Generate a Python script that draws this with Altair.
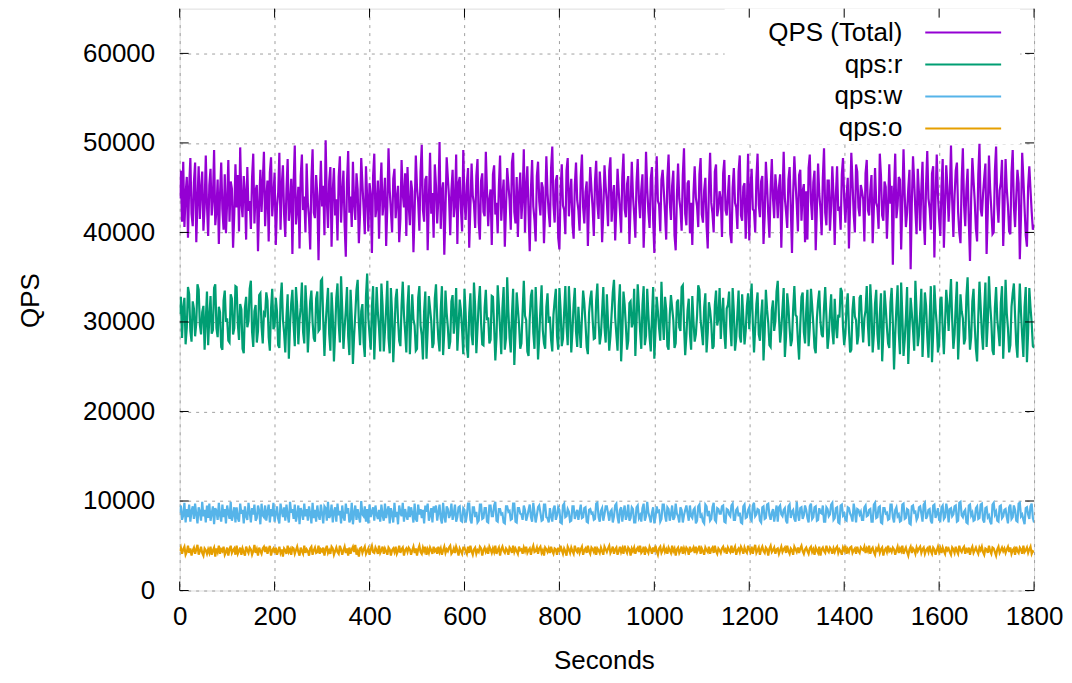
import altair as alt
import pandas as pd

qps_total = [
    43800, 46900, 41200, 47900, 40600, 44300, 46200, 39400, 45100, 48300, 42100, 40700, 45600, 47800, 38900, 43600, 47400, 41500, 44900, 46800, 40200, 42800, 48600, 43100,
    39600, 45300, 47100, 41900, 43700, 49200, 40800, 42500, 45900, 38700, 44200, 47800, 42600, 40300, 46500, 39900, 43400, 48100, 41200, 45700, 44900, 38300, 42000, 47600,
    42800, 46400, 40100, 49500, 43300, 41700, 46300, 44500, 39200, 47300, 42400, 43500, 40400, 46100, 48800, 41000, 44700, 45300, 37900, 43100, 47000, 42300, 45600, 49000,
    40700, 43900, 45800, 39000, 46700, 48400, 41800, 44100, 46700, 38600, 42900, 44400, 48900, 40300, 45200, 47500, 42000, 39500, 44800, 48200, 41300, 43000, 46000, 37600,
    45400, 49700, 40900, 42700, 45100, 38200, 46300, 48700, 42500, 44000, 40000, 47700, 43300, 41600, 38100, 45900, 49300, 42200, 41600, 46400, 44100, 36900, 43800, 48000,
    42900, 45200, 39700, 50300, 43600, 40500, 45700, 47300, 38400, 44600, 47200, 41900, 43700, 39100, 46200, 48500, 41100, 44300, 46900, 40800, 37300, 45600, 49100, 42200,
    44000, 40600, 47900, 43200, 41400, 46600, 44800, 38800, 42100, 48300, 45400, 42700, 39800, 47400, 43900, 40100, 45500, 44200, 37700, 46300, 48800, 41700, 43000, 45800,
    39300, 44500, 47800, 41900, 43600, 46100, 38500, 42900, 49400, 44700, 42400, 40000, 46000, 47100, 41600, 43800, 45200, 38900, 41500, 48100, 44300, 42800, 46600, 39600,
    47300, 43100, 40800, 45800, 44600, 37800, 42300, 48600, 45000, 43400, 40200, 46800, 49800, 42500, 41200, 45900, 46300, 38000, 43700, 48900, 42100, 44400, 39400, 47600,
    45200, 41000, 43800, 50100, 40400, 44500, 45600, 37500, 42600, 48400, 46100, 43900, 39700, 44700, 47000, 41700, 43200, 48700, 38700, 45500, 46200, 42600, 40100, 49200,
    43500, 41400, 45400, 47200, 38300, 42900, 47700, 44100, 43200, 40500, 46300, 48200, 41100, 39200, 45800, 46600, 42300, 41800, 49000, 44600, 40700, 43700, 44800, 38600,
    46500, 47500, 42000, 43300, 39900, 45200, 48600, 41300, 44000, 45900, 38400, 42700, 47200, 45400, 43600, 40300, 47800, 48900, 42300, 41000, 46200, 39500, 44300, 46700,
    41500, 43900, 49300, 40000, 45100, 47400, 42200, 37900, 44800, 48100, 42900, 41400, 39000, 46300, 47900, 43500, 41900, 45600, 45000, 38800, 42700, 48500, 44400, 42200,
    40600, 47200, 49600, 43100, 41100, 45800, 46400, 39400, 38100, 44700, 47600, 43000, 42500, 39800, 46900, 48300, 41800, 44200, 46000, 40900, 39300, 45300, 47800, 43600,
    42500, 40200, 46200, 48700, 42800, 41000, 44500, 45700, 38500, 43800, 47300, 44900, 42700, 39600, 45700, 48000, 43200, 41500, 46800, 44700, 38900, 42300, 47500, 45100,
    43400, 40700, 46900, 48400, 41200, 43900, 45300, 39100, 42800, 47100, 44600, 42400, 40000, 46200, 48800, 42600, 41700, 45400, 46300, 38700, 43000, 47900, 44100, 42000,
    39400, 45600, 48200, 43700, 41600, 44800, 46500, 38300, 42400, 49000, 44900, 42300, 40500, 46000, 47300, 41400, 37700, 44600, 48500, 43500, 43100, 40100, 45900, 47000,
    44600, 42200, 39200, 46100, 48700, 43400, 41400, 45200, 46900, 39700, 38000, 44000, 47700, 43800, 42600, 40200, 46400, 49400, 42100, 40800, 45500, 45800, 39900, 43300,
    38600, 44400, 47400, 43900, 42900, 40600, 46500, 48300, 42000, 41100, 44700, 46100, 40800, 38200, 45000, 48900, 43300, 42100, 40000, 46800, 47600, 41800, 42700, 44600,
    43700, 39500, 46600, 48100, 42500, 41900, 44200, 46400, 39800, 38800, 45000, 47200, 43300, 42800, 40400, 46800, 48600, 41900, 41300, 45100, 45500, 39300, 43000, 48800,
    39100, 44900, 47100, 42600, 42400, 40000, 46000, 48800, 43100, 41700, 45700, 46300, 38700, 41800, 47900, 45300, 42000, 39400, 44900, 48200, 43800, 41600, 46500, 44700,
    41600, 45000, 46500, 38300, 43900, 49000, 43800, 42300, 40500, 45900, 47300, 42700, 37700, 44400, 48500, 45600, 43100, 40100, 46400, 47000, 41300, 44600, 45400, 38900,
    44600, 39200, 47200, 48700, 43400, 41400, 45600, 46900, 38000, 42700, 47700, 44300, 42600, 39700, 46100, 49400, 42200, 40800, 45800, 45800, 40200, 43000, 47400, 44100,
    38600, 44200, 47400, 42400, 42900, 40300, 46500, 48300, 43700, 41100, 44100, 46100, 38200, 43200, 48900, 45700, 42000, 40000, 47600, 46800, 42800, 41800, 45300, 44600,
    43700, 39000, 46600, 48100, 42500, 41900, 44700, 46400, 38800, 42700, 47200, 43300, 42800, 40400, 48800, 46300, 41900, 41300, 45700, 45100, 39300, 43000, 47600, 43200,
    45200, 36400, 44600, 48800, 41600, 43000, 46200, 45900, 38100, 43500, 49300, 44100, 40600, 42200, 44900, 47000, 35900, 43400, 48500, 45600, 42400, 39800, 47100, 44400,
    40200, 44800, 47900, 41600, 38600, 45300, 49100, 43800, 42700, 40300, 46600, 47400, 37200, 43900, 48700, 44200, 41500, 39600, 45100, 48200, 38300, 42900, 47500, 45000,
    41200, 44300, 49700, 43600, 39500, 44100, 46900, 47800, 42300, 40000, 38800, 45800, 49400, 43100, 40700, 44900, 47100, 41300, 36800, 43800, 48300, 45800, 43500, 40400,
    39000, 46500, 49900, 42600, 41800, 44300, 46100, 47700, 37600, 42200, 48600, 44900, 42500, 39800, 40000, 46900, 49600, 43200, 41100, 44700, 45600, 48100, 38500, 42600,
    48200, 44900, 43000, 40100, 39800, 46700, 49200, 42900, 40600, 44000, 47000, 45500, 37000, 41900, 48900, 46000, 42700, 39700, 38400, 45100, 47400, 44800, 42300, 40300,
    40900,
]

qps_r = [
    30900, 32800, 28200, 31600, 32700, 27500, 29400, 33900, 33100, 29000, 27800, 32300, 31500, 28400, 29900, 34200, 33600, 29700, 28600, 31100, 31800, 26900, 30200, 33400,
    27400, 30600, 32900, 28700, 29100, 33800, 34200, 29300, 28300, 31700, 31100, 27200, 26900, 32400, 33500, 30000, 30400, 27900, 27700, 33100, 32600, 28600, 29300, 34000,
    33900, 29800, 28000, 32000, 31400, 27000, 26500, 31600, 32800, 29400, 30100, 33700, 34600, 28900, 27200, 31200, 31900, 27700, 29000, 33000, 33200, 29500, 27600, 31000,
    30800, 33300, 32400, 28300, 26800, 31500, 33700, 29200, 29500, 32700, 31200, 27400, 27100, 32500, 34400, 30300, 28800, 26600, 30600, 33100, 25900, 29700, 32100, 33600,
    29700, 27300, 33900, 31800, 27500, 30200, 31600, 34400, 28900, 27600, 34100, 31500, 26600, 29300, 32300, 33500, 30000, 28200, 27800, 32600, 33400, 29000, 29200, 34600,
    34800, 30100, 26200, 29700, 31900, 33800, 28700, 26800, 33300, 30700, 25600, 28900, 32700, 34300, 29800, 27700, 35100, 31400, 27000, 29300, 31300, 33900, 28400, 26300,
    33600, 30600, 25300, 28500, 30900, 33600, 34700, 29900, 27400, 31200, 32000, 27700, 26100, 32900, 35400, 30400, 28600, 26900, 31700, 34000, 25800, 29600, 33900, 31100,
    29300, 26700, 34300, 31800, 26700, 29000, 31500, 34600, 28200, 26500, 33800, 30900, 25500, 28800, 32600, 33700, 30300, 27900, 27300, 31900, 34500, 30800, 28900, 26600,
    31800, 34100, 26400, 29800, 33100, 30300, 29600, 26800, 27000, 32700, 34000, 29600, 28500, 25800, 31200, 33400, 25900, 29100, 32900, 31500, 30100, 27100, 27600, 32600,
    34200, 30500, 28100, 26700, 31400, 34000, 26300, 28900, 33500, 31000, 29400, 27000, 27800, 32300, 33000, 28700, 30700, 33800, 26800, 29500, 32500, 31300, 29100, 26400,
    33700, 30900, 27200, 26000, 31000, 33200, 28600, 27400, 34400, 31700, 26500, 29300, 32200, 34000, 29900, 27500, 27400, 31600, 33600, 30200, 30500, 27600, 28000, 32900,
    32800, 29500, 25700, 28300, 34100, 31800, 29200, 26400, 31600, 33900, 26900, 28200, 35000, 31200, 28300, 26600, 30800, 33700, 25200, 28800, 33300, 31500, 29700, 27000,
    27600, 31100, 34600, 30700, 30200, 26700, 26200, 30400, 32900, 33600, 28800, 27000, 33900, 30500, 25800, 28300, 31500, 34100, 29100, 27600, 27000, 31700, 33200, 29900,
    30600, 28000, 26700, 30800, 32400, 33700, 28400, 26900, 33800, 31400, 27300, 28100, 31100, 34000, 29500, 27400, 34000, 31200, 26600, 29000, 32000, 33800, 28900, 27200,
    31700, 29300, 27100, 30500, 33500, 32100, 29800, 27200, 26400, 31000, 32600, 33500, 30300, 28100, 28200, 32400, 34300, 30100, 27500, 28600, 31200, 33900, 29400, 27700,
    33100, 29900, 26800, 28400, 30900, 33300, 34700, 30500, 28600, 26800, 31800, 34200, 25600, 28700, 33400, 31900, 29600, 26900, 27900, 32100, 32300, 29400, 30000, 33700,
    26200, 30000, 34200, 31700, 29000, 27000, 31900, 34000, 27400, 28500, 33700, 30800, 28300, 26700, 30600, 33900, 25900, 29100, 32800, 31200, 29300, 27900, 34500, 30600,
    28000, 32800, 31400, 27300, 26900, 30800, 33000, 31600, 30200, 27100, 27600, 32200, 32500, 29400, 29000, 33900, 34100, 29700, 26300, 28400, 31300, 32600, 28700, 26900,
    32900, 30100, 27800, 28600, 30700, 34100, 33600, 30200, 28900, 27400, 31600, 33200, 26600, 28800, 32200, 31300, 29800, 27000, 27300, 31900, 33500, 29600, 30400, 33800,
    28100, 30900, 32700, 28700, 27000, 31500, 31900, 33400, 29500, 27300, 33800, 31200, 26800, 28200, 30900, 33500, 28400, 27700, 33100, 30400, 27500, 29000, 31800, 33200,
    29200, 32100, 34300, 29900, 26600, 29300, 32000, 33300, 28600, 27900, 30700, 32500, 25700, 28800, 33600, 31400, 29900, 27400, 27200, 31300, 32400, 29000, 30100, 33400,
    34600, 30700, 27700, 29200, 31500, 33800, 26100, 28300, 33200, 31700, 29300, 27300, 28000, 31500, 34000, 30800, 30600, 27900, 25800, 29700, 32800, 33300, 28900, 27600,
    31200, 33600, 27300, 29400, 33700, 31800, 29700, 27100, 26500, 30400, 32300, 33500, 30000, 28600, 28300, 31600, 33900, 30700, 27000, 28400, 31000, 33100, 29000, 27500,
    32600, 29600, 28200, 30800, 30500, 33800, 33400, 29400, 27400, 28700, 31800, 33200, 29200, 26600, 26900, 31300, 32900, 30600, 30200, 27500, 28500, 32700, 33000, 29800,
    27700, 30400, 31300, 34000, 29600, 27300, 34200, 31400, 26600, 28600, 32100, 33600, 28700, 26900, 30800, 33200, 25600, 28700, 33500, 31600, 29400, 27600, 27100, 32200,
    33800, 29900, 24700, 28600, 31600, 34100, 28800, 26400, 34400, 30700, 26200, 28000, 30500, 33900, 25300, 28900, 32700, 31000, 29100, 26800, 34600, 31200, 27300, 28500,
    31000, 33700, 26100, 29300, 33300, 31800, 28400, 26000, 30200, 34000, 25500, 28700, 34100, 31500, 29700, 26600, 27500, 32500, 32800, 29200, 26400, 29900, 33600, 31800,
    29000, 32300, 34800, 30300, 27000, 28600, 31900, 34500, 25800, 29000, 33100, 31200, 30400, 27500, 28100, 32900, 35000, 30300, 26900, 28300, 32300, 33700, 29600, 27000,
    25600, 30600, 34500, 31700, 28700, 26900, 31400, 34400, 27200, 29900, 35100, 32000, 30000, 26800, 26300, 31600, 33900, 30300, 28900, 27300, 32100, 34000, 25900, 29500,
    34700, 31000, 29300, 26600, 27400, 31700, 33200, 34300, 30700, 27500, 26000, 30800, 34300, 31000, 28400, 26100, 31700, 33900, 25500, 28800, 33800, 31600, 29900, 27300,
    27100,
]

qps_w = [
    8700, 9500, 7900, 8400, 9800, 7600, 9100, 8200, 9600, 7700, 8900, 9400, 8000, 9700, 8500, 7500, 9300, 8800, 7800, 9900, 8300, 9000, 7600, 9500,
    8100, 9700, 7800, 8600, 9400, 7400, 9200, 8900, 7900, 9800, 8400, 7700, 9600, 8200, 9100, 7500, 9500, 8700, 8000, 9900, 7800, 8500, 9300, 7600,
    9300, 8100, 7700, 9700, 8600, 9000, 7500, 9400, 8300, 7900, 9800, 8800, 7600, 9200, 8500, 9600, 7800, 8100, 9500, 8900, 7400, 9700, 8400, 8200,
    9500, 7800, 8800, 9600, 7600, 9100, 8300, 9800, 7700, 8600, 9400, 8000, 7500, 9700, 8900, 8200, 9300, 7800, 9600, 8400, 7600, 9900, 8700, 9100,
    8000, 9600, 7700, 8500, 9500, 7400, 9200, 8800, 7900, 9700, 8300, 9100, 7800, 9400, 8600, 7500, 9800, 8100, 9000, 7700, 9500, 8400, 7900, 9600,
    8600, 7500, 9400, 9200, 7800, 9900, 8100, 8400, 9600, 7600, 8800, 9300, 7700, 9700, 8400, 8900, 7500, 9500, 8200, 7800, 9700, 8600, 9200, 7600,
    8000, 9800, 7400, 8700, 9500, 7900, 9100, 8300, 7600, 10000, 8500, 8300, 9400, 7700, 9100, 7500, 9600, 8200, 8800, 9300, 7800, 9500, 8500, 8000,
    9000, 7700, 9600, 8400, 7800, 9700, 8100, 8900, 9400, 7500, 9200, 8600, 7600, 9800, 8200, 8800, 7400, 9500, 8700, 8300, 9800, 7700, 9100, 8400,
    7900, 9400, 8200, 9300, 8600, 7600, 9700, 8000, 7700, 9600, 8500, 9100, 8100, 9000, 7500, 9500, 8800, 9700, 7800, 8400, 9200, 7600, 9400, 8700,
    9500, 7800, 8700, 9600, 8000, 7500, 9800, 8300, 7600, 9400, 9100, 8100, 8500, 9700, 7900, 8600, 9600, 7700, 8200, 9300, 9400, 7800, 7700, 9200,
    9000, 7600, 8400, 9700, 9700, 7900, 7500, 9300, 9300, 8200, 8800, 7600, 7800, 9600, 9600, 8000, 8100, 9200, 9200, 7700, 7600, 9500, 9500, 8300,
    8300, 9500, 9900, 7800, 7700, 9100, 9100, 8500, 8600, 7600, 7500, 9400, 9400, 8800, 8900, 7900, 8000, 9700, 9700, 7700, 7600, 9200, 9200, 8600,
    8500, 7900, 9500, 9000, 7800, 8300, 9000, 9600, 8200, 7700, 9800, 8700, 7600, 8400, 9300, 9500, 8700, 7800, 7900, 9600, 9600, 8200, 8100, 7600,
    9200, 8300, 7700, 9100, 9500, 7900, 8400, 9300, 9000, 7600, 7500, 9500, 9700, 8200, 8300, 9100, 8800, 7700, 7800, 9400, 9400, 8000, 8600, 9000,
    7900, 8800, 9600, 8100, 8200, 9200, 9300, 7700, 7600, 9000, 9100, 8600, 8700, 7900, 8000, 9700, 9800, 8200, 7700, 8900, 9200, 7800, 8500, 9400,
    9400, 8600, 7800, 8800, 9000, 7600, 8300, 9500, 9700, 8200, 7500, 9000, 9300, 7700, 8800, 9500, 7900, 8400, 9600, 7800, 8100, 9300, 9100, 7600,
    7600, 9300, 9500, 8100, 8400, 7700, 9200, 9700, 7800, 8300, 9900, 8700, 8200, 7600, 8700, 9300, 7500, 8200, 9400, 8800, 8900, 7700, 8000, 9600,
    9600, 8400, 7700, 9300, 9100, 7800, 8500, 9500, 7900, 8200, 9700, 8600, 8300, 7600, 9300, 9000, 7600, 8400, 9000, 9500, 8600, 7800, 9500, 8300,
    8100, 9000, 9200, 7500, 7800, 9400, 9600, 8100, 8400, 7700, 7500, 9600, 9400, 8300, 8900, 7800, 8000, 9300, 9800, 7900, 7700, 9200, 9100, 8600,
    8600, 9400, 9500, 7700, 7600, 9100, 9000, 8500, 8300, 9500, 9700, 7900, 7900, 9000, 9200, 8300, 8700, 7600, 7500, 9400, 9600, 8100, 8200, 9000,
    9300, 8000, 7800, 9500, 9800, 8300, 8500, 9100, 9000, 7800, 7600, 9300, 9400, 8000, 8100, 9600, 9700, 8400, 7900, 8700, 9100, 7700, 8600, 9500,
    7700, 9300, 9500, 8500, 8300, 9000, 9200, 7800, 7500, 9400, 9600, 8100, 8800, 9000, 8000, 7700, 9900, 8600, 7800, 9200, 9300, 8000, 8400, 9500,
    9000, 8100, 7600, 9400, 9700, 8000, 8200, 9300, 9400, 7800, 7900, 9200, 8700, 8600, 9500, 7700, 7700, 9300, 9100, 8300, 8500, 9600, 9800, 7900,
    8100, 9200, 9300, 7600, 7500, 9500, 9600, 8400, 8600, 7900, 7800, 9300, 9200, 8600, 8300, 7700, 9700, 8900, 7600, 9100, 9000, 8500, 8800, 7900,
    7900, 9300, 9500, 8300, 8400, 9000, 9100, 7700, 7700, 9600, 9800, 8100, 8200, 9300, 9400, 7600, 7500, 9200, 9200, 8600, 8700, 7900, 8000, 9600,
    9600, 8200, 7600, 9000, 9300, 8300, 8500, 7700, 7800, 9600, 9700, 8000, 8100, 9100, 9000, 7500, 7400, 9400, 9500, 8700, 8800, 7900, 8200, 9300,
    9400, 8600, 7700, 9600, 9800, 8000, 8300, 9000, 9100, 7800, 7500, 9500, 9600, 8100, 8600, 9200, 7900, 7800, 9300, 9500, 8000, 8200, 9700, 9000,
    7600, 9100, 9200, 8300, 8500, 9400, 9500, 7700, 7800, 9800, 9900, 8400, 8200, 8800, 9000, 7600, 7500, 9500, 9600, 8400, 8700, 7800, 7900, 9200,
    9400, 8000, 8100, 9600, 9700, 7900, 7600, 9200, 9300, 8200, 8400, 7700, 7400, 9600, 9800, 8500, 8800, 7800, 7700, 9400, 9500, 8100, 8300, 9000,
    9100, 8200, 7500, 9300, 9600, 8000, 8200, 9500, 9000, 7800, 7700, 9700, 9800, 8300, 8500, 7900, 7400, 9200, 9300, 8500, 8000, 9400, 9700, 8100,
    7600,
]

qps_o = [
    4400, 4800, 4100, 4600, 4900, 4000, 4300, 5000, 4200, 4700, 3900, 4500, 4800, 4100, 4600, 5100, 4000, 4400, 4900, 4200, 3900, 4700, 4500, 4100,
    4600, 4200, 4900, 4000, 4500, 4800, 3800, 4700, 4300, 5000, 4100, 4600, 4400, 4900, 4000, 4300, 4800, 3900, 4600, 5000, 4200, 4500, 4700, 4000,
    5000, 4100, 4400, 4800, 4000, 4700, 4300, 3900, 4900, 4500, 4200, 4800, 4600, 4000, 4400, 5100, 4200, 4600, 3900, 4800, 4400, 4100, 4700, 4900,
    4300, 4900, 4100, 4600, 5000, 3900, 4500, 4700, 4200, 4800, 4000, 4400, 4900, 4200, 4600, 3800, 4700, 4500, 4100, 5000, 4300, 4600, 4000, 4800,
    4700, 4100, 4500, 4900, 4300, 3900, 4800, 4400, 4100, 5000, 4200, 4600, 4400, 3900, 4700, 4900, 4000, 4500, 4800, 4200, 4300, 5000, 4100, 4600,
    4400, 4800, 3900, 4600, 5000, 4200, 4500, 4100, 4900, 4700, 4000, 4400, 4800, 4300, 4100, 5000, 4600, 4000, 4500, 4900, 4200, 4700, 3900, 4800,
    4100, 4600, 4900, 4300, 5100, 4000, 4400, 3800, 4700, 4800, 4200, 4600, 4900, 4100, 4400, 4700, 4000, 4600, 5000, 4300, 4200, 4800, 4500, 4100,
    5000, 4200, 4500, 4900, 4100, 4700, 4400, 4000, 4800, 4600, 3900, 4500, 4700, 4300, 4900, 4100, 4400, 5000, 4200, 4600, 4800, 3900, 4500, 4700,
    4300, 4800, 4600, 4000, 4500, 4900, 4200, 4700, 3900, 4600, 5000, 4300, 4100, 4800, 4400, 4900, 4000, 4600, 4200, 4800, 4500, 4100, 4900, 4400,
    4600, 4100, 4900, 4300, 4700, 4000, 4500, 4900, 4200, 4600, 4400, 4800, 5000, 4100, 4300, 4700, 4200, 4900, 4500, 3900, 4700, 4400, 4100, 4800,
    4800, 4400, 4100, 4900, 4200, 5000, 4400, 4000, 4600, 4800, 4100, 4500, 4300, 4900, 4700, 3900, 4500, 4800, 4300, 4600, 4100, 4900, 4600, 4200,
    4700, 4300, 5000, 4100, 4500, 4800, 3900, 4600, 4900, 4400, 4200, 4700, 4500, 4000, 4800, 4600, 4200, 5000, 4300, 4700, 4400, 4100, 4900, 4500,
    4600, 4100, 4800, 4400, 4900, 4200, 4500, 4700, 4000, 4600, 5000, 4300, 4400, 4800, 4100, 4700, 4900, 4200, 4500, 3900, 4800, 4600, 4300, 4700,
    4200, 4900, 4400, 4100, 4700, 4600, 4000, 4800, 4300, 5000, 4500, 4100, 4700, 4400, 3900, 4900, 4600, 4200, 4800, 4400, 4100, 5000, 4500, 4300,
    4800, 4200, 4600, 4900, 4000, 4500, 4700, 4200, 5000, 4400, 4100, 4800, 4600, 4300, 4900, 4000, 4700, 4500, 4200, 4800, 4400, 4000, 4900, 4600,
    4300, 4700, 5000, 4200, 4500, 4900, 4100, 4600, 4800, 4000, 4400, 4900, 4300, 4700, 4100, 5000, 4500, 4200, 4800, 4600, 3900, 4700, 4400, 4800,
    4100, 4600, 4800, 4300, 5000, 4200, 4400, 4900, 4000, 4700, 4500, 4200, 4900, 4600, 4100, 4800, 4300, 5000, 4400, 4000, 4700, 4900, 4200, 4500,
    4900, 4300, 4600, 4100, 4800, 4500, 4200, 5000, 4400, 4700, 3900, 4600, 4800, 4200, 4500, 4900, 4100, 4700, 4300, 4800, 4600, 4000, 4900, 4400,
    4500, 4800, 4200, 4900, 4300, 4600, 5000, 4100, 4700, 4400, 4000, 4800, 4500, 4300, 4900, 4100, 4600, 4800, 4200, 5000, 4400, 4100, 4700, 4500,
    4200, 4700, 4900, 4400, 4600, 4100, 4800, 4500, 4300, 5000, 4200, 4600, 4900, 4000, 4500, 4700, 4300, 4900, 4600, 4100, 4800, 4400, 4200, 5000,
    4600, 4300, 4900, 4100, 4700, 5100, 4200, 4500, 4800, 4000, 4600, 4900, 4400, 4200, 4800, 4600, 3900, 4700, 5000, 4300, 4500, 4800, 4100, 4600,
    4700, 4100, 4500, 4900, 4300, 4600, 4800, 4200, 5000, 4400, 4100, 4700, 4500, 4000, 4900, 4600, 4300, 4800, 4200, 4700, 5000, 4400, 4100, 4600,
    4800, 4400, 4100, 4700, 4900, 4300, 4600, 4000, 4800, 4500, 4200, 4900, 3900, 4600, 4800, 4400, 4200, 5000, 4500, 4300, 4800, 4600, 4100, 4700,
    4300, 4700, 4900, 4200, 4600, 4400, 4000, 4800, 4500, 5000, 4100, 4600, 4300, 4800, 4900, 4200, 4500, 4700, 4100, 4900, 4400, 4200, 4800, 4600,
    4500, 4900, 4200, 4700, 4400, 5000, 4100, 4600, 4800, 4300, 4000, 4700, 4500, 4900, 4200, 4600, 4800, 3900, 4500, 4700, 4300, 5000, 4400, 4600,
    4300, 4800, 4600, 4000, 4500, 4900, 4200, 4700, 4400, 5000, 4100, 4500, 4800, 4300, 3900, 4600, 4900, 4200, 4700, 4500, 4100, 4800, 4400, 4700,
    4900, 4200, 4600, 4800, 4100, 4500, 4700, 4300, 5000, 4400, 4100, 4800, 4600, 4000, 4500, 4900, 4300, 4700, 4200, 4800, 4400, 4100, 4900, 4500,
    4700, 4300, 4000, 4800, 4600, 4200, 4900, 4400, 4100, 5000, 4500, 4300, 4700, 4900, 4100, 4600, 4400, 4800, 4000, 4600, 4900, 4200, 4500, 4800,
    4400, 4100, 4800, 4500, 4900, 4300, 4000, 4700, 4600, 4200, 5000, 4400, 4100, 4800, 4700, 4300, 3900, 4600, 4900, 4200, 4500, 4800, 4400, 4700,
    4200, 4600, 4900, 4300, 4800, 4100, 4500, 4700, 4000, 4900, 4400, 4200, 4800, 4600, 4100, 5000, 4300, 4500, 4800, 4200, 4600, 4900, 4100, 4400,
    4300,
]

series_names = ["QPS (Total)", "qps:r", "qps:w", "qps:o"]
series_colors = ["#9400d3", "#009e73", "#56b4e9", "#e69f00"]
x_ticks = [0, 200, 400, 600, 800, 1000, 1200, 1400, 1600, 1800]
y_ticks = [0, 10000, 20000, 30000, 40000, 50000, 60000]
DURATION = 1800  # seconds covered by every series

# ---- table (each series evenly spread over 0..1800 s) ----
rows = []
for name, vals in zip(series_names, [qps_total, qps_r, qps_w, qps_o]):
    step = DURATION / (len(vals) - 1)
    for i, v in enumerate(vals):
        rows.append({"Seconds": i * step, "QPS": v, "series": name})
df = pd.DataFrame(rows)

W, H = 856, 583
FONT = "Liberation Sans"
xscale = alt.Scale(domain=[0, 1800], nice=False, zero=False)
yscale = alt.Scale(domain=[0, 65000], nice=False)

x_axis = alt.Axis(
    values=x_ticks, format="d", title="Seconds", grid=True,
    gridColor="#a0a0a0", gridDash=[3, 5], gridWidth=1,
    domain=False, ticks=False, tickSize=0,
    labelFont=FONT, labelFontSize=26, labelColor="#000000",
    labelPadding=13, labelFlush=False, labelOverlap=False,
    titleFont=FONT, titleFontSize=26, titleFontWeight="normal", titleColor="#000000",
    titleX=425, titleY=78, titleAlign="center", titleBaseline="alphabetic",
)
y_axis = alt.Axis(
    values=y_ticks, format="d", title="QPS", grid=True,
    gridColor="#a0a0a0", gridDash=[3, 5], gridWidth=1,
    domain=False, ticks=False, tickSize=0,
    labelFont=FONT, labelFontSize=26, labelColor="#000000",
    labelPadding=25, labelFlush=False, labelOverlap=False,
    titleFont=FONT, titleFontSize=26, titleFontWeight="normal", titleColor="#000000",
    titleX=-149, titleY=292, titleAngle=270, titleAlign="center", titleBaseline="middle",
)

# legend: label on the left, long line sample on the right (gnuplot key style)
legend = alt.Legend(
    orient="none", legendX=771, legendY=10,
    symbolType="M-3,0H3", symbolSize=642, symbolStrokeWidth=2,
    rowPadding=5, padding=0,
    labelAlign="right", labelOffset={"expr": "-75"}, labelLimit=400,
    labelFont=FONT, labelFontSize=26, labelColor="#000000",
)

# opaque key box (under the data, over the grid)
key_box = alt.Chart(pd.DataFrame({"k": [0]})).mark_rect(color="white").encode(
    x=alt.value(546), x2=alt.value(842), y=alt.value(0), y2=alt.value(136))

lines = alt.Chart(df).mark_line(strokeWidth=2.2, clip=True).encode(
    x=alt.X("Seconds:Q", scale=xscale, axis=x_axis),
    y=alt.Y("QPS:Q", scale=yscale, axis=y_axis),
    color=alt.Color("series:N", title=None, sort=series_names,
                    scale=alt.Scale(domain=series_names, range=series_colors),
                    legend=legend),
)

ydf = pd.DataFrame({"v": y_ticks})
xdf = pd.DataFrame({"v": x_ticks})
tick_left = alt.Chart(ydf).mark_rule(color="black", strokeWidth=1).encode(
    y=alt.Y("v:Q", scale=yscale, axis=y_axis), x=alt.value(0), x2=alt.value(9))
tick_right = alt.Chart(ydf).mark_rule(color="black", strokeWidth=1).encode(
    y=alt.Y("v:Q", scale=yscale, axis=y_axis), x=alt.value(W - 9), x2=alt.value(W))
tick_bottom = alt.Chart(xdf).mark_rule(color="black", strokeWidth=1).encode(
    x=alt.X("v:Q", scale=xscale, axis=x_axis), y=alt.value(H - 9), y2=alt.value(H))
tick_top = alt.Chart(xdf).mark_rule(color="black", strokeWidth=1).encode(
    x=alt.X("v:Q", scale=xscale, axis=x_axis), y=alt.value(0), y2=alt.value(9))

chart = alt.layer(key_box, lines, tick_left, tick_right, tick_bottom, tick_top).properties(
    width=W, height=H,
    autosize=alt.AutoSizeParams(type="none"),
    padding={"left": 172, "top": 0, "right": 30, "bottom": 84},
).configure_view(stroke="black", strokeWidth=1.5).configure(background="white")

chart.save("out.html", embed_options={"renderer": "svg", "actions": False})
